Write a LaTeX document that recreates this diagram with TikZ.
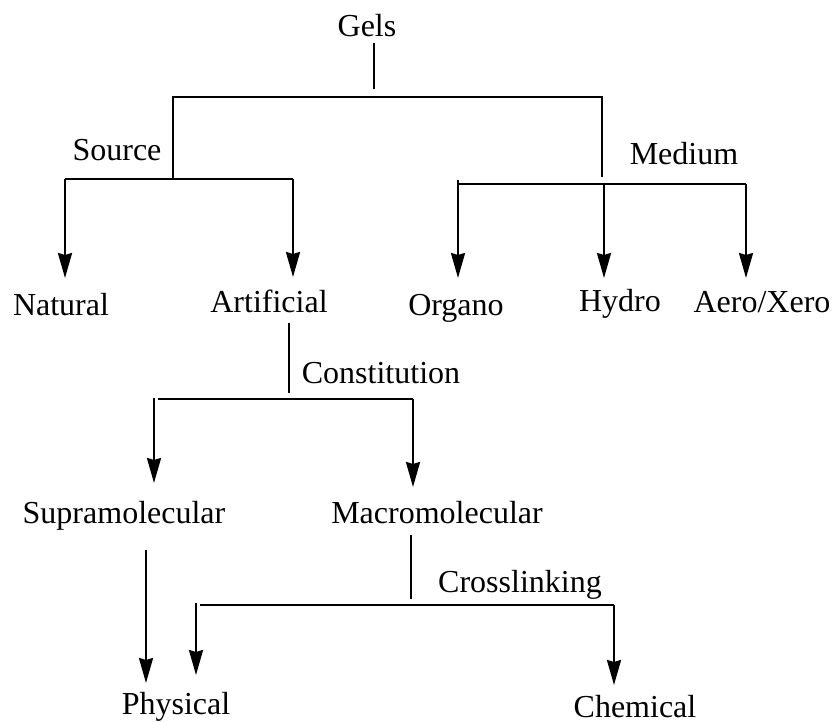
\documentclass[tikz,border=0pt]{standalone}
\usepackage{fontspec}
\setmainfont{Liberation Serif}
\usetikzlibrary{arrows.meta}
\begin{document}
\begin{tikzpicture}[x=1pt,y=-1pt,
  every node/.style={anchor=base, inner sep=0pt, font=\fontsize{32}{38}\selectfont},
  link/.style={line width=2.3pt},
  arr/.style={link, -{Stealth[length=25pt,width=14pt,inset=2pt]}}]
\useasboundingbox (0,0) rectangle (835,721);
\node (gels) at (367,36) {Gels};
\node (source) at (117,160) {Source};
\node (medium) at (684,164) {Medium};
\node (natural) at (61,315) {Natural};
\node (artificial) at (269,312) {Artificial};
\node (organo) at (456,315) {Organo};
\node (hydro) at (620,311) {Hydro};
\node (aero) at (762,312) {Aero/Xero};
\node (constitution) at (381,383) {Constitution};
\node (supra) at (124,523) {Supramolecular};
\node (macro) at (437,523) {Macromolecular};
\node (crosslinking) at (520,592) {Crosslinking};
\node (physical) at (176,714) {Physical};
\node (chemical) at (635,717) {Chemical};
\coordinate (g1) at (374,43);
\coordinate (g2) at (374,89);
\coordinate (t1) at (173,178);
\coordinate (t2) at (173,97);
\coordinate (t3) at (602,97);
\coordinate (t4) at (602,177);
\coordinate (s1) at (65,179);
\coordinate (s2) at (293,179);
\coordinate (s3) at (65,278);
\coordinate (s4) at (293,277);
\coordinate (m1) at (458,180);
\coordinate (m2) at (458,184);
\coordinate (m3) at (604,184);
\coordinate (m4) at (746,184);
\coordinate (m5) at (458,278);
\coordinate (m6) at (604,278);
\coordinate (m7) at (746,278);
\coordinate (a1) at (289,323);
\coordinate (a2) at (289,393);
\coordinate (c1) at (158,399);
\coordinate (c2) at (413,399);
\coordinate (c3) at (154,398);
\coordinate (c4) at (154,483);
\coordinate (c5) at (413,487);
\coordinate (p1) at (146,550);
\coordinate (p2) at (146,683);
\coordinate (x1) at (411,535);
\coordinate (x2) at (411,599);
\coordinate (x3) at (200,605);
\coordinate (x4) at (614,605);
\coordinate (x5) at (196,603);
\coordinate (x6) at (196,675);
\coordinate (x7) at (614,685);
\draw[link] (g1) -- (g2);
\draw[link] (t1) -- (t2) -- (t3) -- (t4);
\draw[link] (s1) -- (s2);
\draw[arr] (s1) -- (s3);
\draw[arr] (s2) -- (s4);
\draw[link] (m2) -- (m4);
\draw[arr] (m1) -- (m5);
\draw[arr] (m3) -- (m6);
\draw[arr] (m4) -- (m7);
\draw[link] (a1) -- (a2);
\draw[link] (c1) -- (c2);
\draw[arr] (c3) -- (c4);
\draw[arr] (c2) -- (c5);
\draw[arr] (p1) -- (p2);
\draw[link] (x1) -- (x2);
\draw[link] (x3) -- (x4);
\draw[arr] (x5) -- (x6);
\draw[arr] (x4) -- (x7);
\end{tikzpicture}
\end{document}
